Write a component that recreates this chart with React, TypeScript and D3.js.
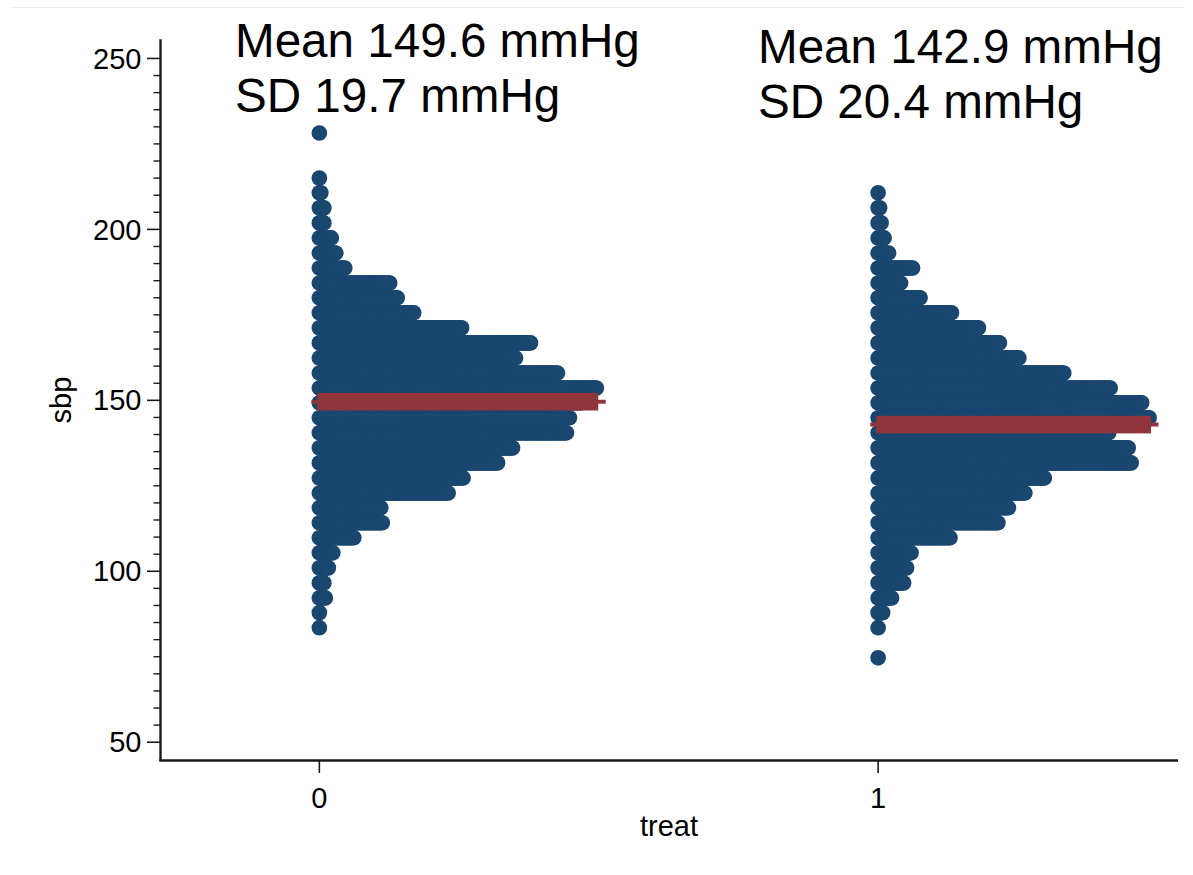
import React from "react";
import * as d3 from "d3";

// ---- data ----
const groups = [0, 1];
const groupLabels = ["0", "1"];
// sbp value of each dot row (bin centres)
const binValues = [74.7, 79.1, 83.5, 87.9, 92.2, 96.6, 101.0, 105.4, 109.8, 114.2, 118.6, 122.9, 127.3, 131.7, 136.1, 140.5, 144.9, 149.3, 153.6, 158.0, 162.4, 166.8, 171.2, 175.6, 180.0, 184.3, 188.7, 193.1, 197.5, 201.9, 206.3, 210.7, 215.0, 219.4, 223.8, 228.2];
// number of dots per row, treat = 0
const countsTreat0 = [0, 0, 1, 1, 5, 4, 7, 10, 24, 43, 42, 87, 97, 120, 130, 166, 168, 176, 186, 160, 132, 142, 96, 64, 53, 48, 18, 12, 9, 4, 4, 2, 1, 0, 0, 1];
// number of dots per row, treat = 1
const countsTreat1 = [1, 0, 1, 4, 10, 18, 20, 23, 49, 81, 88, 99, 112, 170, 168, 155, 182, 177, 156, 125, 95, 82, 68, 50, 29, 16, 24, 8, 5, 3, 2, 1, 0, 0, 0, 0];
const groupMeans = [149.6, 142.9];
const groupSDs = [19.7, 20.4];
const yTickValues = [50, 100, 150, 200, 250];
const xAxisTitle = "treat";
const yAxisTitle = "sbp";

const W = 1193;
const H = 875;
const NAVY = "#1a476f";
const MAROON = "#90353b";
const FONT = "'Liberation Sans', Arial, Helvetica, sans-serif";

export default function App() {
  const x = d3.scaleLinear().domain([-0.2843, 1.5367]).range([160.5, 1178]);
  const y = d3.scaleLinear().domain([44.8, 255.6]).range([760, 39.3]);
  const dotR = 7.85;
  const dotStep = (x(1) - x(0)) * 0.00268; // horizontal offset between stacked dots
  const countsByGroup = [countsTreat0, countsTreat1];
  const minorTicks = d3.range(55, 250, 5).filter((v) => v % 50 !== 0);

  const dots: JSX.Element[] = [];
  countsByGroup.forEach((counts, gi) => {
    const cx0 = x(groups[gi]);
    counts.forEach((n, bi) => {
      for (let k = 0; k < n; k++) {
        dots.push(
          <circle key={`${gi}-${bi}-${k}`} cx={cx0 + k * dotStep} cy={y(binValues[bi])} r={dotR} fill={NAVY} />
        );
      }
    });
  });

  const meanMarks = countsByGroup.map((counts, gi) => {
    const cx0 = x(groups[gi]);
    const maxN = d3.max(counts) as number;
    const ext = (maxN - 1) * dotStep + dotR;
    const yy = y(groupMeans[gi]);
    return (
      <g key={`m${gi}`}>
        <rect x={cx0 - 2} y={yy - 8.8} width={ext - 4} height={17.6} fill={MAROON} />
        <line x1={cx0 - dotR} x2={cx0 + ext + 1.5} y1={yy} y2={yy} stroke={MAROON} strokeWidth={4} />
      </g>
    );
  });

  const textX = [235, 758];
  const textY = [57, 63];
  const tickFont = 29;

  return (
    <svg width={W} height={H} style={{ display: "block", position: "absolute", left: 0, top: 0, background: "#fff" }} fontFamily={FONT}>
      <rect x={0} y={0} width={W} height={H} fill="#fff" />
      <line x1={10} x2={1183} y1={7.5} y2={7.5} stroke="#e6eef0" strokeWidth={1} />

      {dots}
      {meanMarks}

      {/* y axis */}
      <line x1={160.5} x2={160.5} y1={39.3} y2={761} stroke="#1a1a1a" strokeWidth={2.4} />
      {yTickValues.map((v) => (
        <g key={`yt${v}`}>
          <line x1={147} x2={160.5} y1={y(v)} y2={y(v)} stroke="#1a1a1a" strokeWidth={1.6} />
          <text x={141.5} y={y(v)} dy="0.35em" textAnchor="end" fontSize={tickFont} fill="#000">
            {v}
          </text>
        </g>
      ))}
      {minorTicks.map((v) => (
        <line key={`ym${v}`} x1={153.5} x2={160.5} y1={y(v)} y2={y(v)} stroke="#1a1a1a" strokeWidth={1.4} />
      ))}
      <text transform={`translate(71,400) rotate(-90)`} textAnchor="middle" fontSize={tickFont} fill="#000">
        {yAxisTitle}
      </text>

      {/* x axis */}
      <line x1={159.3} x2={1178} y1={760.5} y2={760.5} stroke="#1a1a1a" strokeWidth={2.4} />
      {groups.map((g, i) => (
        <g key={`xt${g}`}>
          <line x1={x(g)} x2={x(g)} y1={760.5} y2={773} stroke="#1a1a1a" strokeWidth={1.6} />
          <text x={x(g)} y={808} textAnchor="middle" fontSize={tickFont} fill="#000">
            {groupLabels[i]}
          </text>
        </g>
      ))}
      <text x={669} y={836} textAnchor="middle" fontSize={tickFont} fill="#000">
        {xAxisTitle}
      </text>

      {/* annotations */}
      {groups.map((g, i) => (
        <g key={`ann${g}`}>
          <text x={textX[i]} y={textY[i]} fontSize={47.6} fill="#000">
            {`Mean ${groupMeans[i].toFixed(1)} mmHg`}
          </text>
          <text x={textX[i]} y={textY[i] + 55} fontSize={47.6} fill="#000">
            {`SD ${groupSDs[i].toFixed(1)} mmHg`}
          </text>
        </g>
      ))}
    </svg>
  );
}
